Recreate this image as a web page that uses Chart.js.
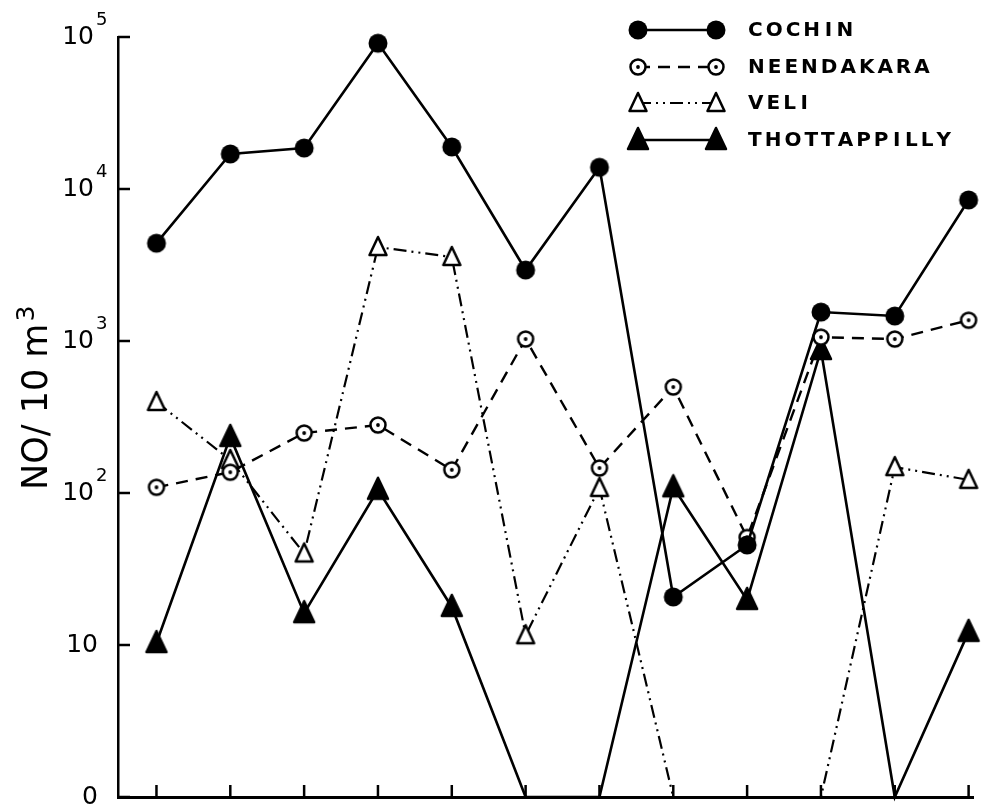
<!DOCTYPE html>
<html>
<head>
<meta charset="utf-8">
<script src="https://cdn.jsdelivr.net/npm/chart.js@4.4.1/dist/chart.umd.min.js"></script>
<style>
html,body{margin:0;padding:0;background:#fff;}
canvas{display:block;}
</style>
</head>
<body>
<canvas id="c" width="985" height="812"></canvas>
<script>
// ---- data (0 = plotted on the "0" baseline) ----
const categories = ['1','2','3','4','5','6','7','8','9','10','11','12'];
const seriesNames = ['COCHIN','NEENDAKARA','VELI','THOTTAPPILLY'];
const cochin       = [4400, 17000, 18600, 91000, 18900, 2930, 13900, 20.7, 45.5, 1550, 1460, 8470];
const neendakara   = [109, 137, 248, 280, 142, 1030, 146, 498, 51, 1060, 1030, 1370];
const veli         = [397, 165, 40, 4150, 3570, 11.6, 108, 0, 0, 0, 148, 122];
const thottappilly = [10.3, 234, 16.2, 105, 17.8, 0, 0, 109, 19.8, 873, 0, 12.2];
const yTickValues = [1, 10, 100, 1000, 10000, 100000];
const yTickBase   = ['0', '10', '10', '10', '10', '10'];
const yTickExp    = ['', '', '2', '3', '4', '5'];
const yTitleMain = 'NO/ 10 m';
const yTitleSup  = '3';

// ---- marker images ----
function makeMarker(kind) {
  const s = 28, m = s / 2;
  const c = document.createElement('canvas');
  c.width = s; c.height = s;
  const g = c.getContext('2d');
  g.lineWidth = 2.5; g.strokeStyle = '#000'; g.fillStyle = '#000'; g.lineJoin = 'round';
  if (kind === 'filledCircle') {
    g.beginPath(); g.arc(m, m, 9.5, 0, Math.PI * 2); g.fill();
  } else if (kind === 'dotCircle') {
    g.beginPath(); g.arc(m, m, 7.5, 0, Math.PI * 2);
    g.fillStyle = '#fff'; g.fill(); g.stroke();
    g.beginPath(); g.arc(m, m, 1.9, 0, Math.PI * 2); g.fillStyle = '#000'; g.fill();
  } else if (kind === 'openTriangle') {
    g.beginPath(); g.moveTo(m, m - 10); g.lineTo(m + 8.5, m + 8); g.lineTo(m - 8.5, m + 8); g.closePath();
    g.fillStyle = '#fff'; g.fill(); g.stroke();
  } else {
    g.beginPath(); g.moveTo(m, m - 12); g.lineTo(m + 10, m + 9); g.lineTo(m - 10, m + 9); g.closePath();
    g.fill(); g.stroke();
  }
  return c;
}
const markers = [makeMarker('filledCircle'), makeMarker('dotCircle'), makeMarker('openTriangle'), makeMarker('filledTriangle')];
const dashes = [[], [12, 8], [13, 5, 2, 5, 2, 5], []];
const widths = [2.6, 2.4, 2.2, 2.6];
const allSeries = [cochin, neendakara, veli, thottappilly];

const datasets = allSeries.map((vals, k) => ({
  label: seriesNames[k],
  data: vals.map((v, i) => ({ x: i, y: v > 0 ? v : 1 })),
  borderColor: '#000',
  backgroundColor: '#000',
  borderWidth: widths[k],
  borderDash: dashes[k],
  pointStyle: markers[k],
  pointRadius: ctx => (vals[ctx.dataIndex] > 0 ? 9 : 0),
  pointHoverRadius: ctx => (vals[ctx.dataIndex] > 0 ? 9 : 0),
  tension: 0,
  fill: false,
  clip: false
}));

function line(ctx, x1, y1, x2, y2) { ctx.beginPath(); ctx.moveTo(x1, y1); ctx.lineTo(x2, y2); ctx.stroke(); }

const decor = {
  id: 'decor',
  afterDraw(chart) {
    const ctx = chart.ctx, xs = chart.scales.x, ys = chart.scales.y, a = chart.chartArea;
    ctx.save();
    ctx.strokeStyle = '#000'; ctx.fillStyle = '#000'; ctx.lineWidth = 2.5; ctx.setLineDash([]);
    // inward tick marks
    categories.forEach((c, i) => { const x = xs.getPixelForValue(i); line(ctx, x, a.bottom, x, a.bottom - 12); });
    yTickValues.forEach(v => { const y = ys.getPixelForValue(v); line(ctx, a.left, y, a.left + 12, y); });
    // y tick labels with superscripts
    yTickValues.forEach((v, i) => {
      const y = ys.getPixelForValue(v);
      ctx.font = '25px "DejaVu Sans"'; ctx.textAlign = 'right'; ctx.textBaseline = 'middle';
      if (yTickExp[i]) {
        ctx.fillText(yTickBase[i], 94, y);
        ctx.font = '18px "DejaVu Sans"'; ctx.textAlign = 'left';
        ctx.fillText(yTickExp[i], 96, y - 17);
      } else {
        ctx.fillText(yTickBase[i], 98, y);
      }
    });
    // y title, rotated
    ctx.save();
    ctx.translate(47, 490);
    ctx.rotate(-Math.PI / 2);
    ctx.textAlign = 'left'; ctx.textBaseline = 'alphabetic';
    ctx.font = '35px "DejaVu Sans"';
    ctx.fillText(yTitleMain, 0, 0);
    const w = ctx.measureText(yTitleMain).width;
    ctx.font = '25px "DejaVu Sans"';
    ctx.fillText(yTitleSup, w + 2, -13);
    ctx.restore();
    // legend
    const rows = [30, 67, 103, 140];
    datasets.forEach((d, k) => {
      const y = rows[k];
      ctx.lineWidth = d.borderWidth; ctx.setLineDash(d.borderDash);
      line(ctx, 638, y, 716, y);
      ctx.setLineDash([]);
      const mk = markers[k];
      ctx.drawImage(mk, 638 - mk.width / 2, y - mk.height / 2);
      ctx.drawImage(mk, 716 - mk.width / 2, y - mk.height / 2);
      ctx.font = 'bold 20px "DejaVu Sans"'; ctx.textAlign = 'left'; ctx.textBaseline = 'middle';
      const txt = d.label;
      let x = 748;
      for (let j = 0; j < txt.length; j++) {
        const gw = ctx.measureText(txt[j]).width;
        const adv = Math.max(gw + 3, 13.5);
        ctx.fillText(txt[j], x + (adv - 3 - gw) / 2, y + 1);
        x += adv;
      }
    });
    ctx.restore();
  }
};

new Chart(document.getElementById('c'), {
  type: 'line',
  data: { datasets },
  options: {
    responsive: false,
    devicePixelRatio: 1,
    animation: false,
    layout: { padding: { top: 37, left: 0, right: 0, bottom: 0 } },
    plugins: { legend: { display: false }, tooltip: { enabled: false } },
    scales: {
      x: {
        type: 'linear', min: -0.521, max: 11.065,
        grid: { display: false, drawTicks: false },
        border: { display: true, color: '#000', width: 3 },
        ticks: { display: false },
        afterFit: s => { s.height = 15; }
      },
      y: {
        type: 'logarithmic', min: 1, max: 100000,
        grid: { display: false, drawTicks: false },
        border: { display: true, color: '#000', width: 2.5 },
        ticks: { display: false },
        afterFit: s => { s.width = 118; }
      }
    }
  },
  plugins: [decor]
});
</script>
</body>
</html>
